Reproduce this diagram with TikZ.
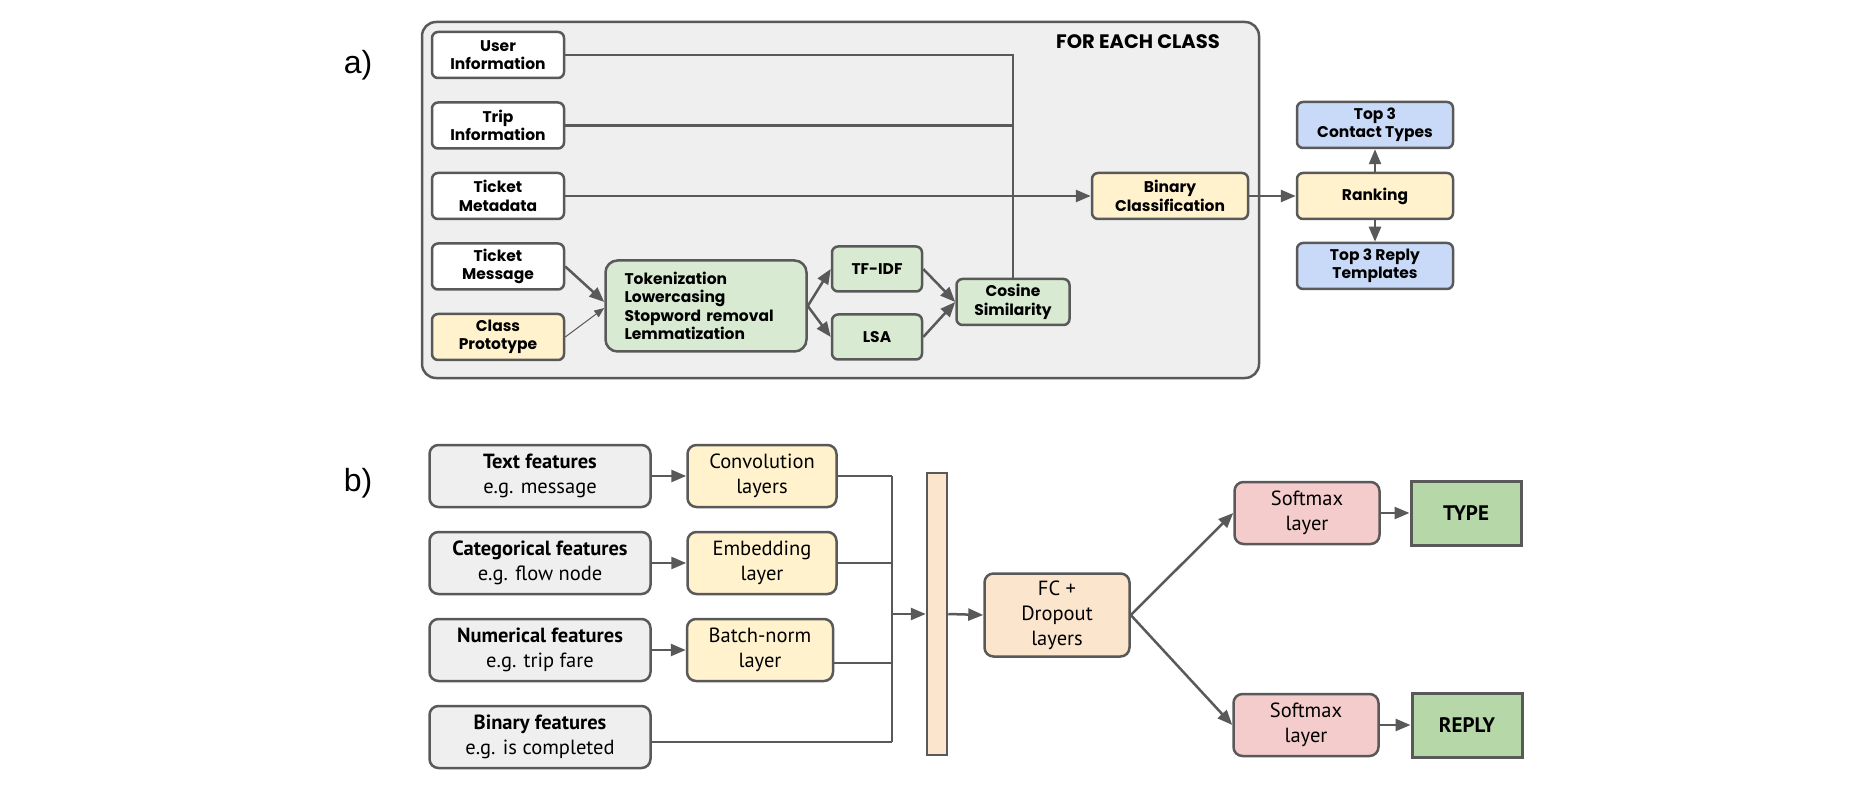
\documentclass[tikz,border=0pt]{standalone}
\usepackage{fontspec}
\setmainfont{PT Sans}
\newfontfamily\popfont{Poppins}
\newfontfamily\labelfont{Liberation Sans}
\usetikzlibrary{arrows.meta}
\definecolor{edge}{HTML}{595959}
\definecolor{panel}{HTML}{EFEFEF}
\definecolor{cream}{HTML}{FFF2CC}
\definecolor{mint}{HTML}{D9EAD3}
\definecolor{sky}{HTML}{C9DAF8}
\definecolor{peach}{HTML}{FCE5CD}
\definecolor{rose}{HTML}{F4CCCC}
\definecolor{leaf}{HTML}{B6D7A8}

\begin{document}
\begin{tikzpicture}[x=1pt,y=-1pt,node distance=70.5pt,
  a node/.style={draw=edge,line width=2.5pt,rounded corners=6pt,fill=white,align=center,minimum width=132pt,minimum height=46pt,inner sep=0pt,font=\popfont\bfseries\fontsize{15.5}{18.5}\selectfont},
  b node/.style={draw=edge,line width=2.5pt,rounded corners=9pt,fill=panel,align=center,minimum width=221pt,minimum height=62pt,inner sep=0pt,font=\fontsize{20.5}{25}\selectfont},
  out node/.style={draw=edge,line width=3pt,fill=leaf,minimum width=110pt,minimum height=64pt,inner sep=0pt,font=\bfseries\fontsize{21}{24}\selectfont},
  link/.style={draw=edge,line width=2.5pt},
  arrow/.style={link,-{Triangle[length=15pt,width=12pt]}}]

  \useasboundingbox (0,0) rectangle (1872,802);

  \node[draw=edge,fill=panel,line width=2.5pt,rounded corners=14pt,minimum width=837pt,minimum height=356pt,inner sep=0pt] (panel) at (840.5,200) {};
  \node[font=\popfont\bfseries\fontsize{19.5}{22}\selectfont] (each) at (1138,42) {FOR EACH CLASS};
  \node[font=\labelfont\fontsize{32}{36}\selectfont] (la) at (358,65) {a)};
  \node[font=\labelfont\fontsize{32}{36}\selectfont] (lb) at (358,483) {b)};

  \node[a node] (user) at (498,55) {User\\Information};
  \node[a node] (trip) [below of=user] {Trip\\Information};
  \node[a node] (meta) [below of=trip] {Ticket\\Metadata};
  \node[a node] (msg) [below of=meta] {Ticket\\Message};
  \node[a node,fill=cream] (proto) [below of=msg] {Class\\Prototype};
  \node[a node,fill=mint,minimum width=201pt,minimum height=91pt,rounded corners=12pt,text width=163pt,align=left] (tok) at (706,306) {Tokenization\\Lowercasing\\Stopword removal\\Lemmatization};
  \node[a node,fill=mint,minimum width=90pt,minimum height=45pt] (tfidf) at (877,269) {TF-IDF};
  \node[a node,fill=mint,minimum width=90pt,minimum height=45pt] (lsa) at (877,337) {LSA};
  \node[a node,fill=mint,minimum width=113pt] (cos) at (1013,302) {Cosine\\Similarity};
  \node[a node,fill=cream,minimum width=156pt] (binary) at (1170,196) {Binary\\Classification};
  \node[a node,fill=cream,minimum width=156pt] (rank) at (1375,196) {Ranking};
  \node[a node,fill=sky,minimum width=156pt] (types) at (1375,125) {Top 3\\Contact Types};
  \node[a node,fill=sky,minimum width=156pt] (replies) at (1375,266) {Top 3 Reply\\Templates};

  \draw[link] (cos.north) -- (cos.north |- user.east) -- (user.east);
  \draw[link] (trip.east) -- (trip.east -| cos.north);
  \draw[arrow] (meta) -- (binary);
  \draw[arrow] (msg.east) -- ([yshift=4pt]tok.west);
  \draw[draw=edge,line width=1pt,-{Triangle[length=10pt,width=8pt]}] (proto.east) -- ([yshift=-2pt]tok.west);
  \draw[arrow] (tok.east) -- (tfidf.west);
  \draw[arrow] (tok.east) -- (lsa.west);
  \draw[arrow] (tfidf.east) -- (cos.west);
  \draw[arrow] (lsa.east) -- (cos.west);
  \draw[arrow] (binary) -- (rank);
  \draw[arrow] (rank) -- (types);
  \draw[arrow] (rank) -- (replies);

  \node[b node] (textf) at (540,476) {\textbf{Text features}\\e.g. message};
  \node[b node,node distance=87pt] (catf) [below of=textf] {\textbf{Categorical features}\\e.g. flow node};
  \node[b node,node distance=87pt] (numf) [below of=catf] {\textbf{Numerical features}\\e.g. trip fare};
  \node[b node,node distance=87pt] (binf) [below of=numf] {\textbf{Binary features}\\e.g. is completed};
  \node[b node,fill=cream,minimum width=149pt,node distance=222pt] (conv) [right of=textf] {Convolution\\layers};
  \node[b node,fill=cream,minimum width=149pt,node distance=222pt] (embed) [right of=catf] {Embedding\\layer};
  \node[b node,fill=cream,minimum width=146pt,node distance=220pt] (batch) [right of=numf] {Batch-norm\\layer};
  \node[draw=edge,fill=peach,line width=2.5pt,minimum width=20pt,minimum height=282pt,inner sep=0pt] (bar) at (937,614) {};
  \node[b node,fill=peach,minimum width=145pt,minimum height=83pt] (fc) at (1057,615) {FC +\\Dropout\\layers};
  \node[b node,fill=rose,minimum width=145pt] (soft1) at (1307,513) {Softmax\\layer};
  \node[b node,fill=rose,minimum width=145pt] (soft2) at (1306,725) {Softmax\\layer};
  \node[out node] (type) at (1466,513) {TYPE};
  \node[out node] (reply) at (1467,725) {REPLY};

  \coordinate (bustop) at (892,476);
  \coordinate (busbot) at (892,742);
  \draw[arrow] (textf) -- (conv);
  \draw[arrow] (catf) -- (embed);
  \draw[arrow] (numf) -- (batch);
  \draw[link] (conv.east) -- (conv.east -| bustop);
  \draw[link] (embed.east) -- (embed.east -| bustop);
  \draw[link] ([yshift=-13pt]batch.east) -- ([yshift=-13pt]batch.east -| bustop);
  \draw[link] ([yshift=-5pt]binf.east) -- ([yshift=-5pt]binf.east -| bustop);
  \draw[link] (bustop) -- (busbot);
  \draw[arrow] (bar.west -| bustop) -- (bar.west);
  \draw[arrow] (bar.east) -- (fc.west);
  \draw[arrow] (fc.east) -- (soft1.west);
  \draw[arrow] (fc.east) -- (soft2.west);
  \draw[arrow] (soft1) -- (type);
  \draw[arrow] (soft2) -- (reply);

\end{tikzpicture}
\end{document}
